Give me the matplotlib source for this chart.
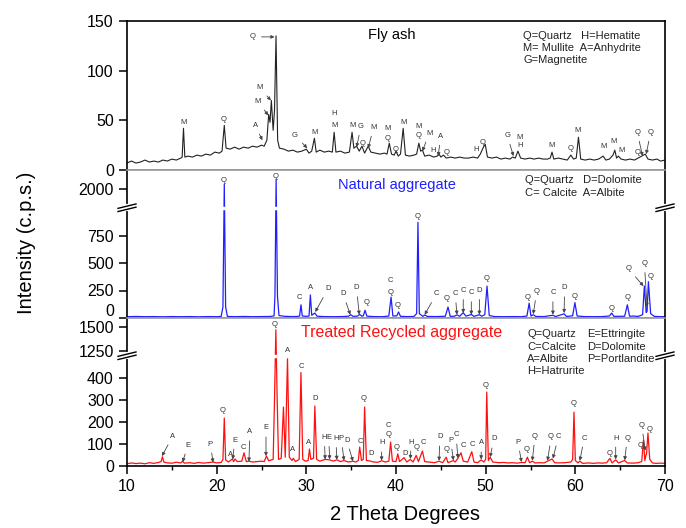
import numpy as np
import matplotlib
matplotlib.use("Agg")
import matplotlib.pyplot as plt
import matplotlib.transforms as mtransforms

plt.rcParams['font.family'] = ['Liberation Sans', 'DejaVu Sans']

# ---------------- data ----------------
# Fly ash trace (2theta, c.p.s.)
fly_x = [10.0, 10.5, 11.0, 11.5, 12.0, 12.5, 13.0, 13.5, 14.0, 14.5, 15.0, 15.5, 16.0, 16.15, 16.3, 16.45,
         16.8, 17.3, 17.8, 18.3, 18.8, 19.3, 19.8, 20.3, 20.6, 20.85, 21.05, 21.5, 22.0, 22.5, 23.0, 23.5,
         24.0, 24.5, 25.0, 25.3, 25.6, 25.8, 25.95, 26.1, 26.3, 26.45, 26.62, 26.8, 27.0, 27.5, 28.0, 28.5,
         29.0, 29.5, 30.0, 30.3, 30.6, 30.9, 31.1, 31.5, 32.0, 32.5, 32.9, 33.1, 33.3, 33.8, 34.3, 34.8,
         35.1, 35.3, 35.6, 35.9, 36.2, 36.5, 36.9, 37.2, 37.7, 38.2, 38.7, 39.0, 39.25, 39.5, 39.8, 40.0,
         40.25, 40.5, 40.8, 41.05, 41.5, 42.0, 42.3, 42.55, 42.75, 42.95, 43.2, 43.7, 44.2, 44.6, 44.8, 45.0,
         45.3, 45.6, 46.1, 46.6, 47.1, 47.6, 48.1, 48.6, 49.1, 49.4, 49.7, 49.95, 50.2, 50.7, 51.2, 51.7,
         52.2, 52.7, 53.0, 53.3, 53.6, 53.9, 54.4, 54.9, 55.4, 55.9, 56.4, 56.9, 57.2, 57.4, 57.6, 58.1,
         58.6, 59.1, 59.5, 59.8, 60.1, 60.35, 60.6, 61.1, 61.6, 62.1, 62.6, 63.1, 63.4, 63.8, 64.2, 64.4,
         64.6, 64.8, 65.1, 65.6, 66.1, 66.6, 67.0, 67.4, 67.8, 68.1, 68.6, 69.1, 69.5, 70.0]
fly_y = [7, 9, 7, 8, 10, 8, 9, 8, 10, 9, 11, 10, 12, 13, 42, 13,
         14, 13, 15, 14, 16, 15, 18, 17, 19, 45, 22, 21, 23, 21, 23, 22,
         24, 23, 25, 24, 30, 56, 48, 70, 40, 60, 135, 30, 22, 21, 19, 20,
         18, 19, 21, 17, 19, 32, 18, 20, 18, 19, 18, 38, 18, 19, 17, 18,
         38, 22, 24, 19, 24, 17, 24, 18, 17, 16, 17, 16, 27, 16, 15, 19,
         14, 16, 42, 15, 14, 15, 16, 27, 19, 20, 14, 15, 13, 14, 16, 13,
         15, 12, 13, 12, 13, 12, 12, 13, 12, 16, 22, 26, 13, 12, 13, 11,
         12, 11, 13, 12, 19, 12, 11, 12, 11, 12, 11, 11, 12, 18, 11, 12,
         11, 10, 15, 11, 12, 33, 11, 10, 11, 10, 11, 14, 10, 11, 15, 20,
         12, 14, 11, 10, 11, 10, 12, 14, 16, 11, 10, 11, 9, 10]

# Natural aggregate trace
nat_x = [10.0, 11.0, 12.0, 13.0, 14.0, 15.0, 16.0, 17.0, 18.0, 19.0, 20.0, 20.5, 20.7, 20.85, 21.0, 21.2,
         22.0, 23.0, 24.0, 25.0, 26.0, 26.4, 26.5, 26.63, 26.78, 26.95, 27.5, 28.0, 28.5, 29.0, 29.25, 29.4,
         29.55, 30.0, 30.3, 30.45, 30.6, 30.95, 31.2, 32.0, 33.0, 34.0, 34.7, 34.95, 35.2, 35.7, 35.95, 36.2,
         36.35, 36.55, 36.75, 37.5, 38.5, 39.2, 39.45, 39.65, 40.1, 40.28, 40.5, 41.2, 42.0, 42.3, 42.45, 42.6,
         43.0, 43.2, 43.5, 44.5, 45.5, 45.8, 46.05, 46.5, 46.8, 47.1, 47.5, 47.8, 48.4, 48.7, 49.3, 49.55,
         49.9, 50.15, 50.4, 51.0, 52.0, 53.0, 54.0, 54.6, 54.85, 55.05, 55.3, 55.6, 56.5, 57.5, 57.8, 58.75,
         59.0, 59.7, 59.95, 60.2, 61.0, 62.0, 63.0, 63.8, 64.05, 64.3, 65.5, 65.8, 66.05, 66.5, 67.0, 67.5,
         67.7, 67.9, 68.0, 68.15, 68.4, 68.8, 69.5, 70.0]
nat_y = [12, 14, 12, 13, 11, 13, 12, 13, 11, 13, 12, 14, 100, 2050, 100, 14,
         12, 14, 12, 13, 14, 20, 200, 2100, 200, 22, 16, 14, 13, 14, 18, 120,
         18, 15, 18, 210, 25, 45, 16, 13, 12, 13, 16, 30, 15, 17, 32, 16,
         20, 70, 17, 13, 12, 18, 190, 18, 20, 55, 15, 13, 14, 40, 870, 40,
         15, 28, 14, 13, 16, 100, 15, 16, 28, 16, 48, 17, 32, 15, 30, 16,
         30, 290, 22, 13, 12, 13, 12, 18, 135, 18, 30, 14, 13, 25, 13, 38,
         14, 20, 140, 18, 13, 12, 13, 18, 45, 15, 16, 120, 16, 18, 14, 30,
         290, 50, 60, 330, 40, 15, 12, 13]

# Treated recycled aggregate trace
trt_x = [10.0, 10.5, 11.0, 11.5, 12.0, 12.5, 13.0, 13.5, 13.8, 13.95, 14.1, 14.5, 15.0, 15.5, 16.0, 16.2,
         16.4, 17.0, 17.5, 18.0, 18.5, 19.0, 19.6, 20.0, 20.5, 20.7, 20.85, 21.0, 21.3, 21.75, 21.9, 22.05,
         22.3, 22.8, 23.05, 23.3, 23.6, 24.0, 24.5, 25.0, 25.3, 25.55, 25.8, 26.3, 26.45, 26.6, 26.75, 26.9,
         27.2, 27.45, 27.65, 27.9, 28.1, 28.4, 28.55, 28.8, 29.2, 29.4, 29.6, 29.9, 30.2, 30.35, 30.5, 30.8,
         30.95, 31.15, 31.5, 32.1, 32.6, 33.0, 33.4, 33.8, 34.2, 34.7, 35.2, 35.5, 35.8, 35.95, 36.15, 36.35,
         36.5, 36.7, 37.2, 37.5, 38.0, 38.4, 38.8, 39.2, 39.4, 39.6, 40.0, 40.2, 40.4, 40.9, 41.2, 41.6,
         41.9, 42.25, 42.5, 42.95, 43.2, 43.8, 44.3, 44.8, 45.2, 45.6, 45.8, 46.4, 46.6, 46.9, 47.25, 47.5,
         48.0, 48.45, 48.7, 49.1, 49.5, 49.8, 50.0, 50.12, 50.3, 50.5, 50.8, 51.5, 52.0, 52.5, 53.0, 53.5,
         54.0, 54.4, 54.65, 54.9, 55.2, 55.5, 56.0, 56.5, 56.9, 57.2, 57.4, 57.7, 58.2, 58.8, 59.5, 59.7,
         59.85, 60.0, 60.3, 60.5, 60.8, 61.5, 62.0, 62.5, 63.0, 63.5, 63.85, 64.1, 64.5, 64.8, 65.5, 65.8,
         66.5, 67.0, 67.4, 67.6, 67.75, 67.95, 68.1, 68.3, 68.6, 69.0, 69.5, 70.0]
trt_y = [10, 14, 11, 13, 10, 15, 12, 16, 20, 42, 18, 14, 13, 17, 14, 22,
         13, 15, 12, 16, 13, 15, 18, 14, 16, 30, 218, 28, 18, 32, 20, 32,
         20, 22, 60, 20, 22, 18, 20, 22, 20, 45, 24, 30, 300, 1475, 300, 30,
         35, 268, 40, 490, 40, 25, 35, 20, 30, 425, 30, 22, 25, 77, 30, 35,
         273, 30, 22, 30, 28, 22, 28, 20, 25, 18, 22, 18, 25, 86, 25, 30,
         268, 25, 22, 18, 17, 24, 18, 22, 109, 22, 20, 55, 20, 38, 18, 30,
         18, 48, 20, 68, 20, 17, 15, 22, 15, 40, 15, 25, 18, 35, 60, 22,
         18, 65, 18, 15, 28, 18, 30, 336, 25, 40, 18, 15, 16, 14, 15, 13,
         16, 15, 40, 15, 22, 14, 15, 14, 22, 28, 32, 15, 14, 15, 18, 30,
         245, 25, 14, 22, 12, 14, 12, 14, 13, 15, 35, 14, 28, 14, 25, 14,
         13, 15, 20, 118, 25, 60, 150, 30, 14, 12, 13, 12]

# phase labels: (letter, text x, text y, arrow tip x, arrow tip y)
fly_labels = [('M', 16.3, 48, None, None), ('Q', 20.8, 51, None, None),
              ('Q', 24.05, 134, 26.45, 134), ('M', 24.8, 83, 26.05, 70),
              ('M', 24.6, 69, 25.75, 55), ('A', 24.3, 45, 25.1, 30),
              ('G', 28.7, 35, 30.1, 22), ('M', 30.9, 38, None, None),
              ('H', 33.1, 57, None, None), ('M', 33.1, 45, None, None),
              ('M', 35.1, 45, None, None), ('G', 36.1, 44, 35.6, 23),
              ('Q', 36.3, 27, None, None), ('M', 37.5, 43, 36.9, 22),
              ('M', 39.1, 42, None, None), ('Q', 39.1, 32, None, None),
              ('Q', 40.0, 21, None, None), ('M', 40.8, 48, None, None),
              ('M', 42.5, 44, None, None), ('Q', 42.5, 35, None, None),
              ('M', 43.7, 37, 42.95, 19), ('H', 44.1, 20, None, None),
              ('A', 45.0, 34, 44.7, 14), ('Q', 45.6, 18, None, None),
              ('H', 48.9, 21, None, None), ('Q', 49.7, 28, None, None),
              ('G', 52.4, 35, 53.1, 14), ('M', 53.8, 33, None, None),
              ('H', 53.8, 25, None, None), ('M', 57.4, 25, None, None),
              ('Q', 59.5, 22, None, None), ('M', 60.3, 40, None, None),
              ('M', 63.1, 24, None, None), ('M', 64.3, 29, None, None),
              ('M', 65.1, 20, None, None), ('Q', 66.9, 38, 67.5, 14),
              ('Q', 68.4, 38, 67.9, 16), ('Q', 67.0, 18, None, None)]

nat_labels = [('Q', 20.8, 2090, None, None), ('Q', 26.6, 2130, None, None),
              ('C', 29.2, 183, None, None), ('A', 30.5, 275, None, None),
              ('D', 32.4, 265, 31.0, 55), ('D', 34.1, 220, 34.9, 30),
              ('D', 35.6, 275, 35.9, 30), ('Q', 36.7, 137, None, None),
              ('C', 39.4, 340, None, None), ('Q', 39.4, 230, None, None),
              ('Q', 40.2, 110, None, None), ('Q', 42.4, 925, None, None),
              ('C', 44.5, 220, 43.2, 30), ('Q', 45.7, 174, None, None),
              ('C', 46.6, 220, 46.8, 30), ('C', 47.5, 250, 47.5, 45),
              ('C', 48.4, 230, 48.4, 30), ('D', 49.3, 250, 49.3, 30),
              ('Q', 50.1, 357, None, None), ('Q', 54.7, 183, None, None),
              ('Q', 55.7, 240, 55.3, 35), ('C', 57.5, 230, 57.5, 30),
              ('D', 58.8, 275, 58.75, 45), ('Q', 59.9, 200, None, None),
              ('Q', 64.0, 90, None, None), ('Q', 65.8, 183, None, None),
              ('Q', 65.9, 450, 67.6, 290), ('Q', 67.7, 495, 68.0, 100),
              ('Q', 68.4, 375, None, None)]

trt_labels = [('A', 15.1, 136, 13.9, 45), ('E', 16.8, 95, 16.2, 18),
              ('P', 19.3, 100, 19.6, 16), ('Q', 20.7, 250, None, None),
              ('A', 21.5, 50, None, None), ('E', 22.0, 118, 21.8, 30),
              ('C', 23.0, 86, None, None), ('A', 23.7, 155, 23.6, 20),
              ('E', 25.5, 173, 25.5, 45), ('Q', 26.5, 1533, None, None),
              ('A', 27.95, 1255, None, None), ('A', 28.5, 73, None, None),
              ('C', 29.4, 450, None, None), ('A', 30.3, 105, None, None),
              ('D', 31.0, 305, None, None), ('H', 32.0, 130, 32.1, 30),
              ('E', 32.5, 130, 32.6, 30), ('H', 33.3, 125, 33.4, 28),
              ('P', 33.9, 125, 34.2, 25), ('D', 34.5, 118, 35.2, 22),
              ('C', 36.0, 110, None, None), ('Q', 36.4, 305, None, None),
              ('D', 37.2, 59, None, None), ('H', 38.4, 105, 38.4, 25),
              ('C', 39.2, 182, None, None), ('Q', 39.2, 145, None, None),
              ('Q', 40.1, 86, None, None), ('D', 41.0, 59, None, None),
              ('H', 41.7, 109, 41.6, 32), ('Q', 42.3, 86, None, None),
              ('C', 43.1, 109, None, None), ('D', 44.9, 132, 44.8, 24),
              ('Q', 45.6, 73, None, None), ('P', 46.1, 118, 46.4, 26),
              ('C', 46.7, 141, 46.9, 36), ('C', 47.5, 91, None, None),
              ('C', 48.5, 100, None, None), ('A', 49.5, 105, 49.5, 30),
              ('Q', 50.0, 364, None, None), ('D', 50.9, 123, 50.5, 40),
              ('P', 53.6, 109, 54.0, 18), ('Q', 54.6, 77, None, None),
              ('Q', 55.5, 136, 55.2, 24), ('Q', 57.3, 132, 56.9, 24),
              ('C', 58.1, 132, 57.5, 34), ('Q', 59.8, 282, None, None),
              ('C', 61.0, 127, 60.5, 24), ('Q', 63.8, 59, None, None),
              ('H', 64.5, 127, 64.5, 30), ('Q', 65.8, 127, 65.5, 26),
              ('Q', 67.4, 186, 67.8, 70), ('Q', 68.3, 168, None, None),
              ('Q', 67.3, 91, None, None)]

fly_ticks = [0, 50, 100, 150]
nat_ticks = [0, 250, 500, 750, 2000]
trt_ticks = [0, 100, 200, 300, 400, 1250, 1500]
x_ticks = [10, 20, 30, 40, 50, 60, 70]


def broken_scale(v_pts, p_pts):
    # piecewise linear y scale used for the axis breaks
    v_pts = np.asarray(v_pts, float)
    p_pts = np.asarray(p_pts, float)

    def fwd(v):
        return np.interp(np.asarray(v, float), v_pts, p_pts)

    def inv(p):
        return np.interp(np.asarray(p, float), p_pts, v_pts)
    return fwd, inv


def add_break(ax, yfrac):
    dx, dy, gap = 9 / 538, 2.2 / 148, 3.2 / 148
    for x0 in (0, 1):
        ax.plot([x0, x0], [yfrac - gap / 2, yfrac + gap / 2], transform=ax.transAxes,
                color='white', lw=3, clip_on=False, zorder=6)
        for s in (-1, 1):
            yc = yfrac + s * gap / 2
            ax.plot([x0 - dx, x0 + dx], [yc - dy, yc + dy], transform=ax.transAxes,
                    color='black', lw=1, clip_on=False, zorder=7)


def put_labels(ax, labels):
    for txt, tx, ty, px, py in labels:
        if px is None:
            ax.text(tx, ty, txt, fontsize=5.5, color='#333333', ha='center', va='center')
        else:
            ax.annotate(txt, xy=(px, py), xytext=(tx, ty), fontsize=5.5, color='#333333',
                        ha='center', va='center',
                        arrowprops=dict(arrowstyle='-|>', color='#444444', lw=0.6,
                                        mutation_scale=5, shrinkA=2, shrinkB=0))


fig = plt.figure(figsize=(6.86, 5.28), dpi=100)
L, W = 127 / 686, 538 / 686
ax1 = fig.add_axes([L, 358 / 528, W, 149 / 528])
ax2 = fig.add_axes([L, 210 / 528, W, 148 / 528])
ax3 = fig.add_axes([L, 62 / 528, W, 148 / 528])

ax1.plot(fly_x, fly_y, color='#222222', lw=0.8)
ax2.plot(nat_x, nat_y, color='#1f1fff', lw=0.9)
ax3.plot(trt_x, trt_y, color='#ff1010', lw=0.9)

nat_fwd, nat_inv = broken_scale([-1e5, 0, 1000, 1800, 2200, 1e5],
                                [-11000, 0, 110, 110.5, 148, 110.5 + 98200 * 0.09375])
trt_fwd, trt_inv = broken_scale([-1e5, 0, 500, 1200, 1600, 1e5],
                                [-22000, 0, 110, 110.5, 148, 110.5 + 98800 * 0.09375])
ax2.set_yscale('function', functions=(nat_fwd, nat_inv))
ax3.set_yscale('function', functions=(trt_fwd, trt_inv))

ax1.set_ylim(0, 150)
ax2.set_ylim(0, 2200)
ax3.set_ylim(0, 1600)
for ax in (ax1, ax2, ax3):
    ax.set_xlim(10, 70)
    for sp in ax.spines.values():
        sp.set_linewidth(1.2)
    ax.tick_params(axis='y', direction='out', length=6, width=1.1, labelsize=11.5)

ax1.set_yticks(fly_ticks)
ax2.set_yticks(nat_ticks)
ax3.set_yticks(trt_ticks)
ax2.yaxis.set_minor_locator(matplotlib.ticker.NullLocator())
ax3.yaxis.set_minor_locator(matplotlib.ticker.NullLocator())

for ax in (ax1, ax2):
    ax.tick_params(axis='x', bottom=False, labelbottom=False)
ax3.set_xticks(x_ticks)
ax3.set_xticks([15, 25, 35, 45, 55, 65], minor=True)
ax3.tick_params(axis='x', which='major', direction='out', length=6, width=1.1, labelsize=11.5)
ax3.tick_params(axis='x', which='minor', direction='out', length=3, width=1.0)

# grey separators between panels
ax1.spines['bottom'].set_color('#999999')
ax2.spines['top'].set_color('#999999')
ax2.spines['bottom'].set_color('#999999')
ax3.spines['top'].set_color('#999999')

# raise the "0" label of the middle panel
off = mtransforms.ScaledTranslation(0, 8 / 100, fig.dpi_scale_trans)
for lab in ax2.get_yticklabels():
    if lab.get_text() == '0':
        lab.set_transform(lab.get_transform() + off)

# axis breaks
ax2.axhline(1400, color='white', lw=2.5, zorder=3)
ax3.axhline(900, color='white', lw=2.5, zorder=3)
add_break(ax2, 110.25 / 148)
add_break(ax3, 110.25 / 148)

put_labels(ax1, fly_labels)
put_labels(ax2, nat_labels)
put_labels(ax3, trt_labels)

# panel titles and phase keys
ax1.text(0.4926, 0.906, 'Fly ash', transform=ax1.transAxes, ha='center', va='center', fontsize=10.5)
ax2.text(0.502, 0.899, 'Natural aggregate', transform=ax2.transAxes, ha='center', va='center',
         fontsize=10.5, color='#1f1fff')
ax3.text(0.51, 0.899, 'Treated Recycled aggregate', transform=ax3.transAxes, ha='center',
         va='center', fontsize=11.5, color='#ff1010')

key_kw = dict(va='top', ha='left', fontsize=8, linespacing=1.3, color='#222222')
ax1.text((523 - 127) / 538, 0.935, 'Q=Quartz   H=Hematite\nM= Mullite  A=Anhydrite\nG=Magnetite',
         transform=ax1.transAxes, **key_kw)
ax2.text((525 - 127) / 538, 0.965, 'Q=Quartz   D=Dolomite\nC= Calcite  A=Albite',
         transform=ax2.transAxes, **key_kw)
ax3.text((527 - 127) / 538, 0.925, 'Q=Quartz\nC=Calcite\nA=Albite\nH=Hatrurite',
         transform=ax3.transAxes, **key_kw)
ax3.text((587 - 127) / 538, 0.925, 'E=Ettringite\nD=Dolomite\nP=Portlandite',
         transform=ax3.transAxes, **key_kw)

fig.text(27 / 686, 1 - 243 / 528, 'Intensity (c.p.s.)', rotation=90, ha='center', va='center', fontsize=14.5)
fig.text(405 / 686, 1 - 515 / 528, '2 Theta Degrees', ha='center', va='center', fontsize=14.5)

fig.savefig('out.png', dpi=100)
